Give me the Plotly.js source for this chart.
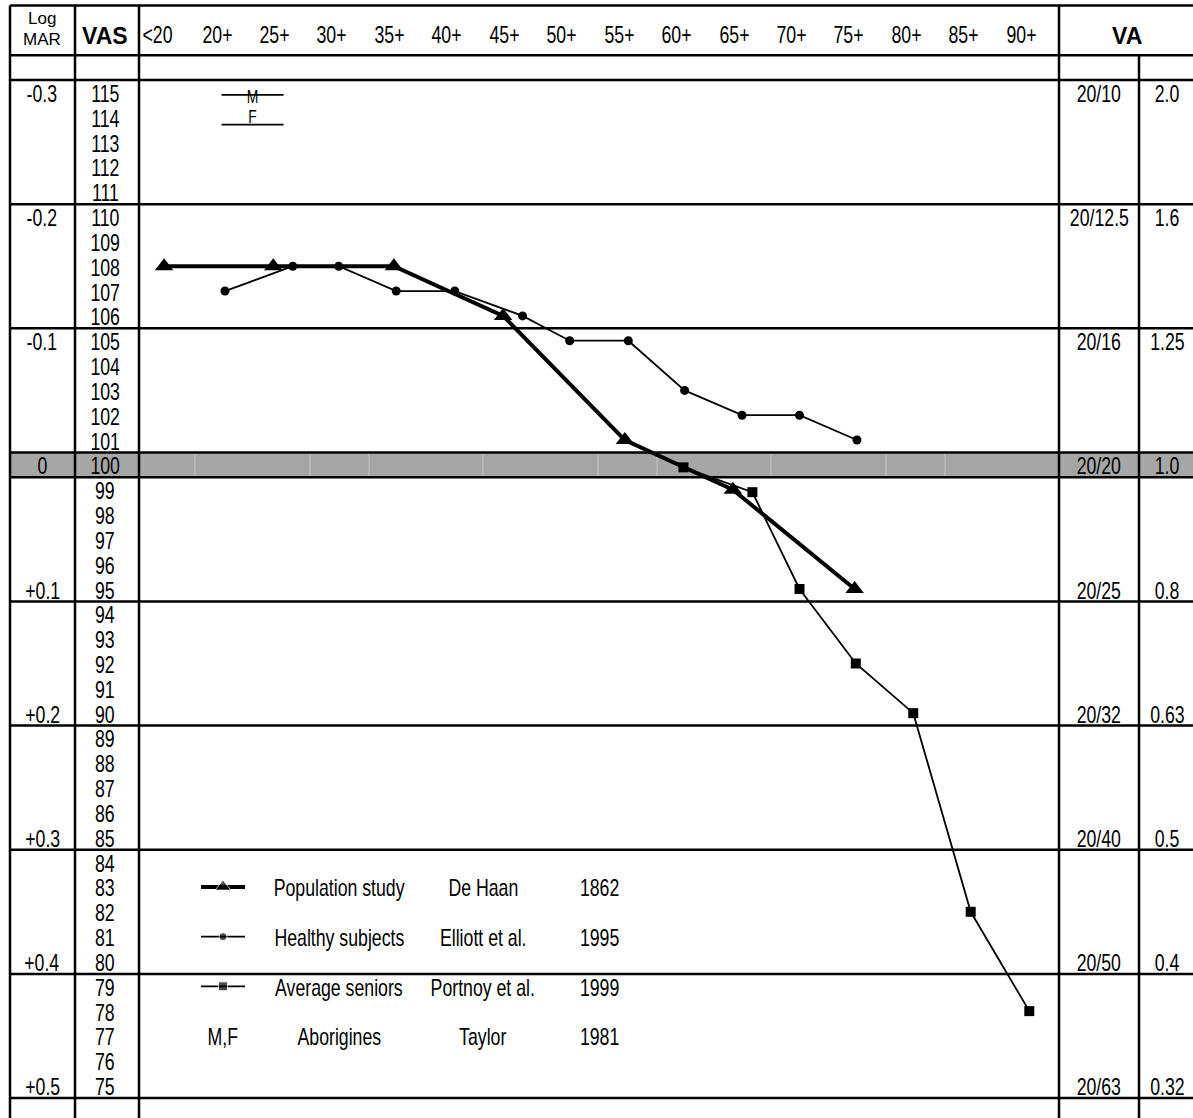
<!DOCTYPE html>
<html><head><meta charset="utf-8">
<script src="https://cdn.plot.ly/plotly-3.0.1.min.js"></script>
<style>
html,body{margin:0;padding:0;background:#fff}
#chart{width:1193px;height:1118px}
/* emulate a narrow (Arial Narrow-like) face: condense annotation text horizontally */
#chart .annotation-text{transform-box:fill-box;transform-origin:center;transform:scaleX(0.77)}
#chart g.annotation[data-index="0"] .annotation-text,
#chart g.annotation[data-index="1"] .annotation-text,
#chart g.annotation[data-index="2"] .annotation-text,
#chart g.annotation[data-index="3"] .annotation-text{transform:none}
</style>
</head><body><div id="chart"></div>
<script>
// ---------------- DATA ----------------
const ageLabels = ['<20','20+','25+','30+','35+','40+','45+','50+','55+','60+','65+','70+','75+','80+','85+','90+'];
const ageTicks  = [15,20,25,30,35,40,45,50,55,60,65,70,75,80,85,90];

// Population study – De Haan 1862
const popAge = [14.7, 24.2, 34.7, 44.2, 54.8, 64.2, 74.8];
const popVAS = [108, 108, 108, 106, 101, 99, 95];
// Healthy subjects – Elliott et al. 1995
const healthyAge = [20, 25.9, 29.9, 34.9, 40, 45.9, 50, 55.1, 60, 65, 70, 75];
const healthyVAS = [107, 108, 108, 107, 107, 106, 105, 105, 103, 102, 102, 101];
// Average seniors – Portnoy et al. 1999
const seniorsAge = [59.9, 65.9, 70, 74.9, 79.9, 84.9, 90];
const seniorsVAS = [99.9, 98.9, 95, 92, 90, 82, 78];
// Aborigines – Taylor 1981 (M and F)
const aborigineAge = [19.7, 25.1];
const aborigineM = [114.9, 114.9];
const aborigineF = [113.7, 113.7];

const vasValues = [115,114,113,112,111,110,109,108,107,106,105,104,103,102,101,100,99,98,97,96,95,94,93,92,91,90,89,88,87,86,85,84,83,82,81,80,79,78,77,76,75];
const logmarRows   = [115, 110, 105, 100, 95, 90, 85, 80, 75];
const logmarLabels = ['-0.3','-0.2','-0.1','0','+0.1','+0.2','+0.3','+0.4','+0.5'];
const snellenVA    = ['20/10','20/12.5','20/16','20/20','20/25','20/32','20/40','20/50','20/63'];
const decimalVA    = ['2.0','1.6','1.25','1.0','0.8','0.63','0.5','0.4','0.32'];

const legendStudy  = ['Population study','Healthy subjects','Average seniors','Aborigines'];
const legendAuthor = ['De Haan','Elliott et al.','Portnoy et al.','Taylor'];
const legendYear   = ['1862','1995','1999','1981'];
const legendRowVAS = [83, 81, 79, 77];

// ---------------- GEOMETRY (pixels) ----------------
const W = 1193, H = 1118;
const PX_PER_YEAR = 11.49, X_REF_PX = 225, X_REF_AGE = 20;
const PX_PER_VAS = 24.83, Y_REF_PX = 80, Y_REF_VAS = 115.5;
const ageAt = px => X_REF_AGE + (px - X_REF_PX) / PX_PER_YEAR;
const vasAt = py => Y_REF_VAS - (py - Y_REF_PX) / PX_PER_VAS;
const px2paper = px => px / W;

const TABLE_L = 10, COL_LOG_R = 75, COL_VAS_R = 139, COL_CHART_R = 1059, COL_VA_MID = 1139;
const hLinesVAS = [118.5, 116.5, 115.5, 110.5, 105.5, 100.5, 99.5, 94.5, 89.5, 84.5, 79.5, 74.5];
const faintGridPx = [195, 310, 369, 483, 598, 657, 771, 886, 945];

const FONT = "'Liberation Sans', Arial, sans-serif";
const TXT = 23;
const TXT_SHIFT = -1.5;

// ---------------- SHAPES ----------------
const shapes = [];
shapes.push({type:'rect', layer:'below', xref:'paper', yref:'y', x0:px2paper(TABLE_L), x1:1, y0:99.5, y1:100.5,
  fillcolor:'#a6a6a6', line:{width:0}});
faintGridPx.forEach(p => shapes.push({type:'line', layer:'below', xref:'paper', yref:'y',
  x0:px2paper(p), x1:px2paper(p), y0:99.5, y1:100.5, line:{color:'#c8c8c8', width:1}}));
hLinesVAS.forEach(v => shapes.push({type:'line', layer:'below', xref:'paper', yref:'y',
  x0:px2paper(TABLE_L), x1:1, y0:v, y1:v, line:{color:'#000', width:2.5}}));
[TABLE_L, COL_LOG_R, COL_VAS_R, COL_CHART_R].forEach(p => shapes.push({type:'line', layer:'below', xref:'paper', yref:'y',
  x0:px2paper(p), x1:px2paper(p), y0:118.5, y1:vasAt(H), line:{color:'#000', width:2.5}}));
shapes.push({type:'line', layer:'below', xref:'paper', yref:'y',
  x0:px2paper(COL_VA_MID), x1:px2paper(COL_VA_MID), y0:116.5, y1:vasAt(H), line:{color:'#000', width:2.5}});

// ---------------- ANNOTATIONS ----------------
const ann = [];
const txt = (x, y, text, opts={}) => ann.push(Object.assign({xref:'paper', yref:'y', x:x, y:y, text:text,
  showarrow:false, xanchor:'center', yanchor:'middle', yshift:TXT_SHIFT, font:{family:FONT, size:TXT, color:'#000'}}, opts));

// header (indices 0..3 are not condensed)
txt(px2paper(42), vasAt(18), 'Log', {font:{family:FONT, size:17, color:'#000'}, yshift:0});
txt(px2paper(42), vasAt(39), 'MAR', {font:{family:FONT, size:17, color:'#000'}, yshift:0});
txt(px2paper(105), vasAt(36), '<b>VAS</b>', {font:{family:FONT, size:23, color:'#000'}, yshift:0});
txt(px2paper(1127), vasAt(36), '<b>VA</b>', {font:{family:FONT, size:23, color:'#000'}, yshift:0});
ageLabels.forEach((lab, i) => ann.push({xref:'x', yref:'y', x:ageTicks[i], y:vasAt(35), text:lab, showarrow:false,
  xanchor:'center', yanchor:'middle', xshift: i === 0 ? -10 : -8, font:{family:FONT, size:TXT, color:'#000'}}));

// VAS column
vasValues.forEach(v => txt(px2paper(105), v, String(v)));
// LogMAR & VA columns
logmarRows.forEach((v, i) => {
  txt(px2paper(42), v, logmarLabels[i]);
  txt(px2paper(1099), v, snellenVA[i]);
  txt(px2paper(1167), v, decimalVA[i]);
});

// Aborigine labels
const abMid = (aborigineAge[0] + aborigineAge[1]) / 2;
ann.push({xref:'x', yref:'y', x:abMid, y:aborigineM[0], yshift:-2, text:'M', showarrow:false, xanchor:'center', yanchor:'middle',
  font:{family:FONT, size:18, color:'#000'}});
ann.push({xref:'x', yref:'y', x:abMid, y:aborigineF[0], text:'F', showarrow:false, xanchor:'center', yanchor:'bottom', yshift:-4,
  font:{family:FONT, size:18, color:'#000'}});

// Legend text
const LEG_SYM_PX = 223, LEG_STUDY_PX = 339, LEG_AUTH_PX = 483, LEG_YEAR_PX = 599;
legendRowVAS.forEach((v, i) => {
  txt(px2paper(LEG_STUDY_PX), v, legendStudy[i]);
  txt(px2paper(LEG_AUTH_PX), v, legendAuthor[i]);
  txt(px2paper(LEG_YEAR_PX), v, legendYear[i]);
});
txt(px2paper(LEG_SYM_PX), legendRowVAS[3], 'M,F');

// ---------------- TRACES ----------------
const traces = [];
traces.push({x:healthyAge, y:healthyVAS, mode:'lines+markers', line:{color:'#000', width:1.8},
  marker:{symbol:'circle', size:9, color:'#000'}, hoverinfo:'skip'});
traces.push({x:seniorsAge, y:seniorsVAS, mode:'lines+markers', line:{color:'#000', width:1.8},
  marker:{symbol:'square', size:10, color:'#000'}, hoverinfo:'skip'});
traces.push({x:popAge, y:popVAS, mode:'lines+markers', line:{color:'#000', width:4},
  marker:{symbol:'triangle-up', size:16, color:'#000'}, hoverinfo:'skip'});
traces.push({x:aborigineAge, y:aborigineM, mode:'lines', line:{color:'#000', width:1.8}, hoverinfo:'skip'});
traces.push({x:aborigineAge, y:aborigineF, mode:'lines', line:{color:'#000', width:1.8}, hoverinfo:'skip'});

// legend samples
const legX = [ageAt(201), ageAt(LEG_SYM_PX), ageAt(245)];
const legStyles = [
  {w:4, sym:'triangle-up', s:14},
  {w:1.8, sym:'circle', s:8},
  {w:1.8, sym:'square', s:9}
];
legStyles.forEach((st, i) => traces.push({x:legX, y:[legendRowVAS[i], legendRowVAS[i], legendRowVAS[i]],
  mode:'lines+markers', line:{color:'#000', width:st.w}, marker:{symbol:st.sym, size:[0, st.s, 0], color:'#000'},
  hoverinfo:'skip'}));

const layout = {
  width:W, height:H, margin:{l:0, r:0, t:0, b:0}, showlegend:false,
  paper_bgcolor:'#fff', plot_bgcolor:'#fff',
  xaxis:{range:[ageAt(0), ageAt(W)], visible:false, fixedrange:true},
  yaxis:{range:[vasAt(H), vasAt(0)], visible:false, fixedrange:true},
  shapes:shapes, annotations:ann
};
Plotly.newPlot('chart', traces, layout, {displayModeBar:false, staticPlot:true});
</script></body></html>
